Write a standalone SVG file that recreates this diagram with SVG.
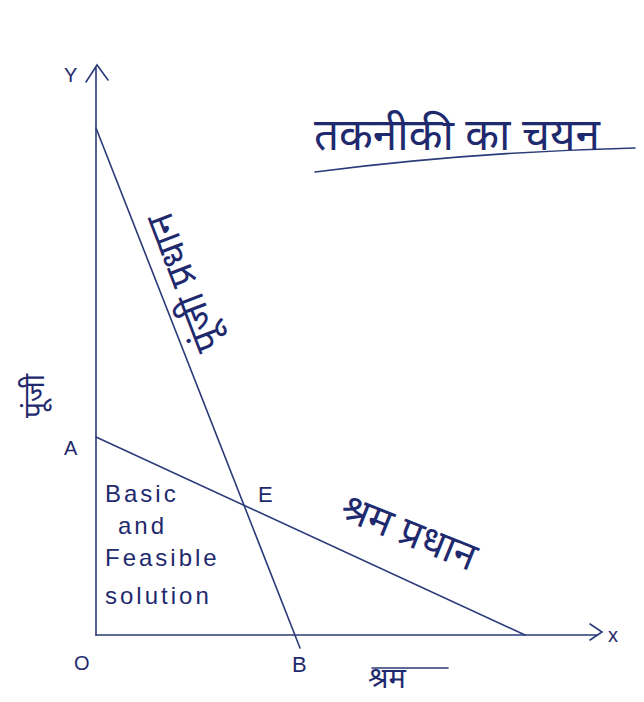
<svg xmlns="http://www.w3.org/2000/svg" width="644" height="702" viewBox="0 0 644 702">
<style>
.ln{stroke:#2b3a78;stroke-width:1.6;fill:none;stroke-linecap:round}
.t{font-family:"Noto Sans","Noto Sans Devanagari","Liberation Sans",sans-serif;fill:#1f2a6e}
.e{font-family:"Liberation Sans",sans-serif;fill:#1f2a6e}
</style>
<rect width="644" height="702" fill="#ffffff"/>
<g id="connectors">
<path class="ln" d="M96,635 V68 M86,82 L97,65 L108,80"/>
<path class="ln" d="M96,635 H598 M590,624 L602,632 L590,640"/>
<path id="capital" class="ln" d="M96,128 L300,648"/>
<path id="labour" class="ln" d="M96,437 L525,635"/>
<path class="ln" d="M315,172 Q470,152 635,148"/>
<path class="ln" d="M372,668 H448"/>
</g>
<g id="title"><text class="t" x="314" y="150" font-size="44">तकनीकी का चयन</text></g>
<g id="axis-labels">
<text class="e" x="64" y="82" font-size="20">Y</text>
<text class="e" x="608" y="642" font-size="20">x</text>
<text class="e" x="64" y="455" font-size="20">A</text>
<text class="e" x="74" y="670" font-size="20">O</text>
<text class="e" x="292" y="672" font-size="22">B</text>
<text class="e" x="258" y="502" font-size="22">E</text>
</g>
<g id="node-capital-label"><text class="t" transform="translate(222,346) rotate(-111)" font-size="38">पूंजी प्रधान</text></g>
<g id="node-y-label"><text class="t" transform="translate(44,418) rotate(-90)" font-size="28">पूंजी</text></g>
<g id="node-labour-label"><text class="t" transform="translate(338,518) rotate(22)" font-size="40">श्रम प्रधान</text></g>
<g id="node-x-label"><text class="t" x="368" y="688" font-size="29">श्रम</text></g>
<g id="node-region" class="e" font-size="24" letter-spacing="3">
<text x="105" y="502">Basic</text>
<text x="118" y="534">and</text>
<text x="105" y="566">Feasible</text>
<text x="105" y="604">solution</text>
</g>
</svg>
